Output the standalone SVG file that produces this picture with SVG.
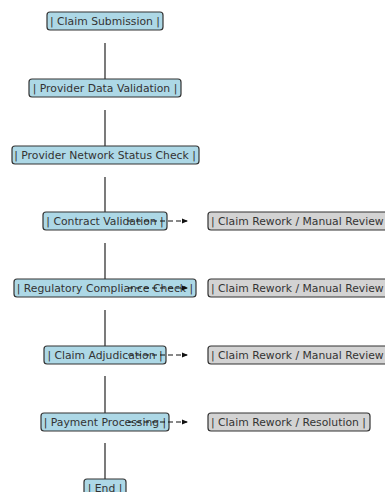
<svg xmlns="http://www.w3.org/2000/svg" width="385" height="492" viewBox="0 0 385 492">
<style>
.bx{fill:#add8e6;stroke:#333;stroke-width:1.2}
.gx{fill:#d3d3d3;stroke:#333;stroke-width:1.2}
.t{font-family:"DejaVu Sans",sans-serif;font-size:10.8px;fill:#333;text-anchor:middle;dominant-baseline:central}
.tl{font-family:"DejaVu Sans",sans-serif;font-size:10.8px;fill:#333;dominant-baseline:central}
.ln{stroke:#333;stroke-width:1.3;fill:none}
.da{stroke:#111;stroke-width:1.2;fill:none;stroke-dasharray:5,3}
</style>
<defs>
<marker id="ah" markerWidth="6" markerHeight="6" refX="5" refY="3" orient="auto" markerUnits="userSpaceOnUse">
<path d="M0,0.5 L6,3 L0,5.5 z" fill="#111"/>
</marker>
</defs>
<rect width="385" height="492" fill="#fff"/>
<g id="n1"><rect class="bx" x="47" y="12" width="116" height="18" rx="3"/><text class="t" x="105" y="21">| Claim Submission |</text></g>
<g id="n2"><rect class="bx" x="29" y="79" width="152" height="18" rx="3"/><text class="t" x="105" y="88">| Provider Data Validation |</text></g>
<g id="n3"><rect class="bx" x="12" y="146" width="187" height="18" rx="3"/><text class="t" x="105" y="155">| Provider Network Status Check |</text></g>
<g id="n4"><rect class="bx" x="43" y="212" width="124" height="18" rx="3"/><text class="t" x="105" y="221">| Contract Validation |</text></g>
<g id="n5"><rect class="bx" x="14" y="279" width="182" height="18" rx="3"/><text class="t" x="105" y="288">| Regulatory Compliance Check |</text></g>
<g id="n6"><rect class="bx" x="44" y="346" width="122" height="18" rx="3"/><text class="t" x="105" y="355">| Claim Adjudication |</text></g>
<g id="n7"><rect class="bx" x="41" y="413" width="128" height="18" rx="3"/><text class="t" x="105" y="422">| Payment Processing |</text></g>
<g id="n8"><rect class="bx" x="84" y="479" width="42" height="18" rx="3"/><text class="t" x="105" y="488">| End |</text></g>
<g id="r1"><rect class="gx" x="208" y="212" width="200" height="18" rx="3"/><text class="tl" x="211" y="221">| Claim Rework / Manual Review |</text></g>
<g id="r2"><rect class="gx" x="208" y="279" width="200" height="18" rx="3"/><text class="tl" x="211" y="288">| Claim Rework / Manual Review |</text></g>
<g id="r3"><rect class="gx" x="208" y="346" width="200" height="18" rx="3"/><text class="tl" x="211" y="355">| Claim Rework / Manual Review |</text></g>
<g id="r4"><rect class="gx" x="208" y="413" width="162" height="18" rx="3"/><text class="tl" x="211" y="422">| Claim Rework / Resolution |</text></g>
<g id="connectors">
<line class="ln" x1="105" y1="43" x2="105" y2="79"/>
<line class="ln" x1="105" y1="110" x2="105" y2="146"/>
<line class="ln" x1="105" y1="177" x2="105" y2="212"/>
<line class="ln" x1="105" y1="243" x2="105" y2="279"/>
<line class="ln" x1="105" y1="310" x2="105" y2="346"/>
<line class="ln" x1="105" y1="376" x2="105" y2="413"/>
<line class="ln" x1="105" y1="443" x2="105" y2="479"/>
<line class="da" x1="128" y1="221" x2="187" y2="221" marker-end="url(#ah)"/>
<line class="da" x1="128" y1="288" x2="187" y2="288" marker-end="url(#ah)"/>
<line class="da" x1="128" y1="355" x2="187" y2="355" marker-end="url(#ah)"/>
<line class="da" x1="128" y1="422" x2="187" y2="422" marker-end="url(#ah)"/>
</g>
</svg>
